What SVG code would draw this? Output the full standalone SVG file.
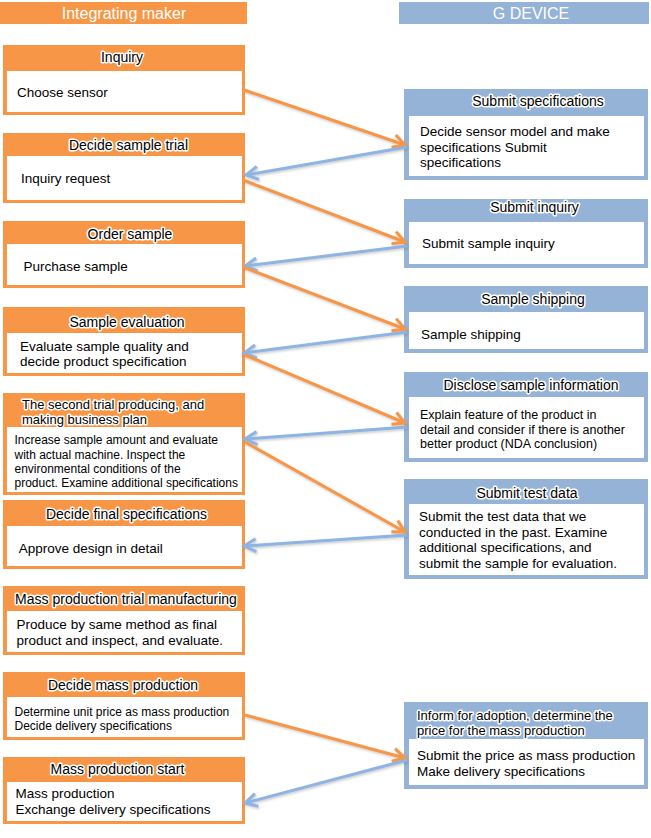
<svg xmlns="http://www.w3.org/2000/svg" width="651" height="838" viewBox="0 0 651 838">
<style>
text{font-family:"Liberation Sans",Arial,sans-serif;fill:#000}
.hdr{font-size:16px;fill:#fff;text-anchor:middle}
.ttl{font-size:14px;stroke:#fff;stroke-width:3;stroke-linejoin:round;paint-order:stroke}
.t2{font-size:13px}
.mid{text-anchor:middle}
.b{font-size:13.5px}
.s{font-size:12px}
.s2{font-size:12.5px}
.o{fill:#F79646}
.bl{fill:#95B3D7}
.w{fill:#fff}
.co{stroke:#F79646;stroke-width:3;fill:none}
.cb{stroke:#8DB4E2;stroke-width:3;fill:none}
</style>
<defs>
<filter id="sh" x="-10%" y="-30%" width="120%" height="160%">
<feDropShadow dx="1" dy="1.5" stdDeviation="1" flood-color="#666" flood-opacity="0.35"/>
</filter>
<marker id="ao" markerUnits="userSpaceOnUse" markerWidth="16" markerHeight="16" refX="13" refY="8" orient="auto" overflow="visible">
<path d="M1,1.5 L13,8 L1,14.5" fill="none" stroke="#F79646" stroke-width="3" stroke-linejoin="miter"/>
</marker>
<marker id="ab" markerUnits="userSpaceOnUse" markerWidth="16" markerHeight="16" refX="13" refY="8" orient="auto" overflow="visible">
<path d="M1,1.5 L13,8 L1,14.5" fill="none" stroke="#8DB4E2" stroke-width="3" stroke-linejoin="miter"/>
</marker>
</defs>
<rect width="651" height="838" fill="#fff"/>

<g id="hdr-left"><rect class="o" x="0" y="2" width="247" height="22"/><text class="hdr" x="124" y="19">Integrating maker</text></g>
<g id="hdr-right"><rect class="bl" x="399" y="2" width="250" height="22"/><text class="hdr" x="531" y="19">G DEVICE</text></g>

<g id="n-inquiry"><rect class="o" x="3" y="45" width="242" height="70"/><rect class="w" x="7" y="71" width="235" height="41"/>
<text class="ttl mid" x="122" y="62">Inquiry</text><text class="b" x="17" y="96.5">Choose sensor</text></g>

<g id="n-decide-trial"><rect class="o" x="3" y="133" width="242" height="70"/><rect class="w" x="7" y="156" width="235" height="44"/>
<text class="ttl mid" x="128.5" y="150">Decide sample trial</text><text class="b" x="21" y="182.5">Inquiry request</text></g>

<g id="n-order"><rect class="o" x="3" y="221" width="242" height="67"/><rect class="w" x="7" y="244" width="235" height="41"/>
<text class="ttl mid" x="130" y="239">Order sample</text><text class="b" x="23.5" y="270.5">Purchase sample</text></g>

<g id="n-eval"><rect class="o" x="3" y="307" width="242" height="69"/><rect class="w" x="7" y="333" width="235" height="40"/>
<text class="ttl mid" x="127" y="326.5">Sample evaluation</text>
<text class="b" x="20" y="350.5">Evaluate sample quality and</text><text class="b" x="20" y="366">decide product specification</text></g>

<g id="n-second"><rect class="o" x="3" y="393" width="242" height="102"/><rect class="w" x="7" y="427" width="235" height="65"/>
<text class="ttl t2" x="22" y="408.5">The second trial producing, and</text><text class="ttl t2" x="22" y="423.5">making business plan</text>
<text class="s" x="14.5" y="444">Increase sample amount and evaluate</text>
<text class="s" x="14.5" y="458.5">with actual machine. Inspect the</text>
<text class="s" x="14.5" y="472.5">environmental conditions of the</text>
<text class="s" x="14.5" y="486.5">product. Examine additional specifications</text></g>

<g id="n-final"><rect class="o" x="3" y="500" width="242" height="69"/><rect class="w" x="7" y="526" width="235" height="40"/>
<text class="ttl mid" x="126.5" y="519">Decide final specifications</text><text class="b" x="18.7" y="553">Approve design in detail</text></g>

<g id="n-mass-trial"><rect class="o" x="3" y="586" width="242" height="69"/><rect class="w" x="7" y="611" width="235" height="41"/>
<text class="ttl mid" x="126" y="603.5">Mass production trial manufacturing</text>
<text class="b" x="16.6" y="629">Produce by same method as final</text><text class="b" x="16.6" y="644.5">product and inspect, and evaluate.</text></g>

<g id="n-decide-mass"><rect class="o" x="3" y="672" width="242" height="68"/><rect class="w" x="7" y="697" width="235" height="40"/>
<text class="ttl mid" x="123" y="690">Decide mass production</text>
<text class="s" x="14.5" y="715.5">Determine unit price as mass production</text><text class="s" x="14.5" y="729.5">Decide delivery specifications</text></g>

<g id="n-mass-start"><rect class="o" x="3" y="757" width="242" height="67"/><rect class="w" x="7" y="782" width="235" height="39"/>
<text class="ttl mid" x="117.5" y="774">Mass production start</text>
<text class="b" x="15.4" y="798">Mass production</text><text class="b" x="15.4" y="813.5">Exchange delivery specifications</text></g>

<g id="n-submit-spec"><rect class="bl" x="404" y="89" width="244" height="91"/><rect class="w" x="409" y="116" width="235" height="60"/>
<text class="ttl mid" x="538" y="105.5">Submit specifications</text>
<text class="b" x="420" y="136">Decide sensor model and make</text><text class="b" x="420" y="151.5">specifications Submit</text><text class="b" x="420" y="167">specifications</text></g>

<g id="n-submit-inq"><rect class="bl" x="404" y="199" width="244" height="69"/><rect class="w" x="409" y="222" width="235" height="42"/>
<text class="ttl mid" x="534.5" y="212">Submit inquiry</text><text class="b" x="422" y="248">Submit sample inquiry</text></g>

<g id="n-shipping"><rect class="bl" x="404" y="286" width="244" height="67"/><rect class="w" x="409" y="312" width="235" height="37"/>
<text class="ttl mid" x="533" y="304">Sample shipping</text><text class="b" x="421" y="339">Sample shipping</text></g>

<g id="n-disclose"><rect class="bl" x="404" y="372" width="244" height="90"/><rect class="w" x="409" y="397" width="235" height="61"/>
<text class="ttl mid" x="531" y="390">Disclose sample information</text>
<text class="s2" x="420" y="419">Explain feature of the product in</text>
<text class="s2" x="420" y="433.5">detail and consider if there is another</text>
<text class="s2" x="420" y="448">better product (NDA conclusion)</text></g>

<g id="n-testdata"><rect class="bl" x="404" y="479" width="244" height="100"/><rect class="w" x="409" y="504" width="235" height="71"/>
<text class="ttl mid" x="527" y="497.5">Submit test data</text>
<text class="b" x="419" y="521">Submit the test data that we</text>
<text class="b" x="419" y="536.5">conducted in the past. Examine</text>
<text class="b" x="419" y="552">additional specifications, and</text>
<text class="b" x="419" y="567.5">submit the sample for evaluation.</text></g>

<g id="n-inform"><rect class="bl" x="404" y="702" width="244" height="87"/><rect class="w" x="409" y="739" width="235" height="46"/>
<text class="ttl t2" x="417" y="719.5">Inform for adoption, determine the</text><text class="ttl t2" x="417" y="734.5">price for the mass production</text>
<text class="b" x="417" y="760">Submit the price as mass production</text><text class="b" x="417" y="775.5">Make delivery specifications</text></g>

<g id="connectors" filter="url(#sh)">
<line class="co" x1="244" y1="90" x2="405" y2="145" marker-end="url(#ao)"/>
<line class="cb" x1="407" y1="147" x2="246" y2="175" marker-end="url(#ab)"/>
<line class="co" x1="243" y1="180" x2="405" y2="242" marker-end="url(#ao)"/>
<line class="cb" x1="407" y1="246" x2="245" y2="266" marker-end="url(#ab)"/>
<line class="co" x1="243" y1="267" x2="405" y2="329" marker-end="url(#ao)"/>
<line class="cb" x1="407" y1="332" x2="244" y2="353" marker-end="url(#ab)"/>
<line class="co" x1="245" y1="355" x2="405" y2="423" marker-end="url(#ao)"/>
<line class="cb" x1="407" y1="427" x2="245" y2="439" marker-end="url(#ab)"/>
<line class="co" x1="245" y1="442" x2="405" y2="532" marker-end="url(#ao)"/>
<line class="cb" x1="407" y1="535" x2="244" y2="546" marker-end="url(#ab)"/>
<line class="co" x1="245" y1="715" x2="405" y2="758" marker-end="url(#ao)"/>
<line class="cb" x1="407" y1="760" x2="245" y2="803" marker-end="url(#ab)"/>
</g>
</svg>
